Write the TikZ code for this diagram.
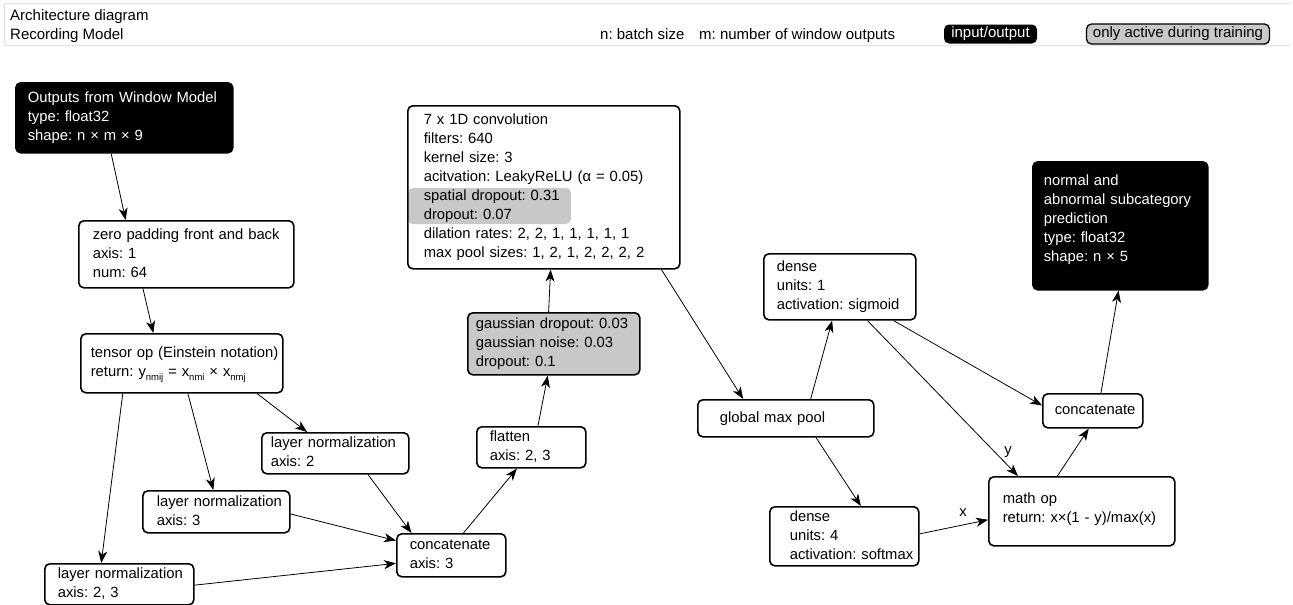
\documentclass[tikz,border=0pt]{standalone}
\usepackage{fontspec}
\setmainfont{Liberation Sans}
\usetikzlibrary{arrows.meta,calc}
\frenchspacing

\definecolor{trainfill}{RGB}{200,200,200}
\definecolor{framegray}{RGB}{226,226,226}

% multi-line block text that never re-wraps
\newcommand\rows[1]{\begin{tabular}{@{}l@{}}#1\end{tabular}}
% small lowered index letters
\newcommand\idx[1]{\raisebox{-3.5pt}{\fontsize{9.5}{10}\selectfont #1}}

\begin{document}
\begin{tikzpicture}[x=1pt,y=-1pt,
  blk/.style={draw, line width=1.6pt, rounded corners=5pt, anchor=north west,
    align=left, inner ysep=0pt, font=\fontsize{14.8}{19}\selectfont},
  io/.style={blk, fill=black, text=white},
  train/.style={blk, fill=trainfill},
  flow/.style={line width=0.8pt, -{Stealth[length=12pt,width=9pt,inset=3.5pt]}},
  lbl/.style={font=\fontsize{14.8}{19}\selectfont, inner sep=0pt},
  head/.style={font=\fontsize{15}{18}\selectfont, inner sep=0pt, anchor=base west}]

\useasboundingbox (0,0) rectangle (1293,605);

% ---------- header strip ----------
\draw[framegray, line width=1pt] (1290,3) -- (4,3) -- (4,45) -- (1290,45);
\node[head] (title) at (10,20) {Architecture diagram};
\node[head] (model) at (10,39) {Recording Model};
\node[head] (nlegend) at (600,39) {n: batch size};
\node[head] (mlegend) at (699,39) {m: number of window outputs};
\node[font=\fontsize{15}{18}\selectfont, fill=black, text=white, rounded corners=5pt,
  minimum width=93pt, minimum height=19pt, inner sep=0pt] (legio) at (990.5,34) {input/output};
\node[font=\fontsize{15}{18}\selectfont, draw, line width=1.3pt, fill=trainfill, rounded corners=5pt,
  minimum width=183pt, minimum height=20pt, inner sep=0pt] (legtrain) at (1178,34) {only active during training};

% ---------- input branch ----------
\node[io, minimum width=217pt, minimum height=70pt, inner xsep=12pt, text width=193pt] (win) at (15,82)
  {\rows{Outputs from Window Model\\type: float32\\shape: n × m × 9}};
\node[blk, minimum width=215pt, minimum height=67pt, inner xsep=14pt, text width=187pt] (zero) at (78,220)
  {\rows{zero padding front and back\\axis: 1\\num: 64}};
\node[blk, minimum width=202pt, minimum height=59pt, inner xsep=10pt, text width=182pt] (tensor) at (80,333)
  {\rows{tensor op (Einstein notation)\\return: y\idx{nmij} = x\idx{nmi} × x\idx{nmj}}};

% ---------- normalizations ----------
\node[blk, minimum width=147pt, minimum height=41pt, inner xsep=9pt, text width=129pt] (lnb) at (261,432)
  {\rows{layer normalization\\axis: 2}};
\node[blk, minimum width=147pt, minimum height=42pt, inner xsep=14pt, text width=119pt] (lnc) at (142,490)
  {\rows{layer normalization\\axis: 3}};
\node[blk, minimum width=149pt, minimum height=41pt, inner xsep=13pt, text width=123pt] (lnbc) at (44,563)
  {\rows{layer normalization\\axis: 2, 3}};
\node[blk, minimum width=109pt, minimum height=43pt, inner xsep=13pt, text width=83pt] (cat) at (396,533)
  {\rows{concatenate\\axis: 3}};

% ---------- convolution stack ----------
\node[blk, minimum width=109pt, minimum height=41pt, inner xsep=13pt, text width=83pt] (flat) at (476,426)
  {\rows{flatten\\axis: 2, 3}};
\node[train, minimum width=172pt, minimum height=62pt, inner xsep=8pt, text width=156pt] (noise) at (467,312)
  {\rows{gaussian dropout: 0.03\\gaussian noise: 0.03\\dropout: 0.1}};
\fill[trainfill, rounded corners=5pt] (408,188) rectangle (571,224);
\node[blk, minimum width=272pt, minimum height=163pt, inner xsep=16pt, text width=240pt] (conv) at (407,105)
  {\rows{7 x 1D convolution\\filters: 640\\kernel size: 3\\acitvation: LeakyReLU (α = 0.05)\\spatial dropout: 0.31\\dropout: 0.07\\dilation rates: 2, 2, 1, 1, 1, 1, 1\\max pool sizes: 1, 2, 1, 2, 2, 2, 2}};

% ---------- heads ----------
\node[blk, minimum width=176pt, minimum height=37pt, inner xsep=22pt, text width=132pt] (gmp) at (697,399)
  {\rows{global max pool}};
\node[blk, minimum width=152pt, minimum height=66pt, inner xsep=13pt, text width=126pt] (sig) at (763,253)
  {\rows{dense\\units: 1\\activation: sigmoid}};
\node[blk, minimum width=149pt, minimum height=59pt, inner xsep=20pt, text width=109pt] (soft) at (769,506)
  {\rows{dense\\units: 4\\activation: softmax}};
\node[blk, minimum width=186pt, minimum height=69pt, inner xsep=14pt, text width=158pt] (math) at (988,476)
  {\rows{math op\\return: x×(1 - y)/max(x)\\[5pt]}};
\node[blk, minimum width=100pt, minimum height=34pt, inner xsep=12pt, text width=76pt] (catr) at (1042,393)
  {\rows{concatenate}};
\node[io, minimum width=175pt, minimum height=128pt, inner xsep=11pt, text width=153pt] (out) at (1032,161)
  {\rows{normal and\\abnormal subcategory\\prediction\\type: float32\\shape: n × 5\\[12pt]}};

% ---------- connectors ----------
\draw[flow] ($(win.south west)!0.44!(win.south east)$) -- ($(zero.north west)!0.22!(zero.north east)$);
\draw[flow] ($(zero.south west)!0.30!(zero.south east)$) -- ($(tensor.north west)!0.36!(tensor.north east)$);
\draw[flow] ($(tensor.south west)!0.87!(tensor.south east)$) -- ($(lnb.north west)!0.31!(lnb.north east)$);
\draw[flow] ($(tensor.south west)!0.53!(tensor.south east)$) -- ($(lnc.north west)!0.48!(lnc.north east)$);
\draw[flow] ($(tensor.south west)!0.21!(tensor.south east)$) -- ($(lnbc.north west)!0.38!(lnbc.north east)$);
\draw[flow] ($(lnb.south west)!0.72!(lnb.south east)$) -- ($(cat.north west)!0.14!(cat.north east)$);
\draw[flow] ($(lnc.north east)!0.55!(lnc.south east)$) -- ($(cat.north west)!0.17!(cat.south west)$);
\draw[flow] ($(lnbc.north east)!0.52!(lnbc.south east)$) -- ($(cat.north west)!0.68!(cat.south west)$);
\draw[flow] ($(cat.north west)!0.61!(cat.north east)$) -- ($(flat.south west)!0.37!(flat.south east)$);
\draw[flow] ($(flat.north west)!0.56!(flat.north east)$) -- ($(noise.south west)!0.465!(noise.south east)$);
\draw[flow] ($(noise.north west)!0.47!(noise.north east)$) -- ($(conv.south west)!0.525!(conv.south east)$);
\draw[flow] ($(conv.south west)!0.93!(conv.south east)$) -- ($(gmp.north west)!0.26!(gmp.north east)$);
\draw[flow] ($(gmp.north west)!0.64!(gmp.north east)$) -- ($(sig.south west)!0.45!(sig.south east)$);
\draw[flow] ($(gmp.south west)!0.67!(gmp.south east)$) -- ($(soft.north west)!0.61!(soft.north east)$);
\draw[flow] ($(soft.north east)!0.46!(soft.south east)$) -- ($(math.north west)!0.62!(math.south west)$);
\draw[flow] ($(sig.south west)!0.68!(sig.south east)$) -- ($(math.north west)!0.16!(math.north east)$);
\draw[flow] ($(sig.south west)!0.85!(sig.south east)$) -- ($(catr.north west)!0.35!(catr.south west)$);
\draw[flow] ($(math.north west)!0.37!(math.north east)$) -- ($(catr.south west)!0.46!(catr.south east)$);
\draw[flow] ($(catr.north west)!0.58!(catr.north east)$) -- ($(out.south west)!0.49!(out.south east)$);

% input names on the math op connectors
\node[lbl] (xname) at (963,513) {x};
\node[lbl] (yname) at (1008,452) {y};

\end{tikzpicture}
\end{document}
